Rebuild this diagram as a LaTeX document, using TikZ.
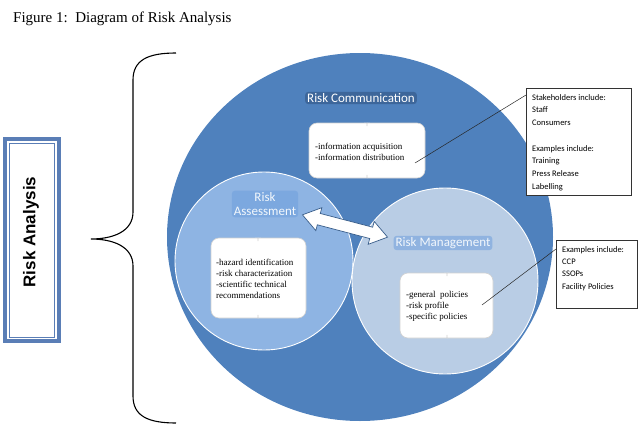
\documentclass[tikz,border=0pt]{standalone}
\usepackage{fontspec}
\setmainfont{Liberation Serif}
\newfontfamily\calfont{Carlito}
\newfontfamily\arialfont{Liberation Sans}
\usetikzlibrary{shapes.geometric,shapes.arrows,calc}
\definecolor{outerblue}{HTML}{4F81BD}
\definecolor{assessblue}{HTML}{8EB4E3}
\definecolor{manageblue}{HTML}{B9CDE5}
\definecolor{frameblue}{HTML}{5A7EB6}
\definecolor{glowdark}{HTML}{243F66}
\definecolor{glowblue}{HTML}{6F9FDC}
\definecolor{paletext}{HTML}{F2F7FC}
\definecolor{arrowline}{HTML}{385D8A}
\newcommand\notchbox[5]{%
  \path[notchboxstyle] (#1,#2) -- (#5-5,#2) .. controls (#5-1.5,#2) and (#5,#2-1.5) .. (#5,#2-5)
    .. controls (#5,#2-1.5) and (#5+1.5,#2) .. (#5+5,#2) -- (#3,#2) -- (#3,#4) -- (#5+5,#4)
    .. controls (#5+1.5,#4) and (#5,#4+1.5) .. (#5,#4+5)
    .. controls (#5,#4+1.5) and (#5-1.5,#4) .. (#5-5,#4) -- (#1,#4) -- cycle;}
\begin{document}
\begin{tikzpicture}[x=1pt,y=-1pt,
  notchboxstyle/.style={fill=white, draw=black!18, line width=0.6pt, rounded corners=8pt},
  lbl/.style={font=\calfont\fontsize{13}{14.5}\selectfont, align=center, inner xsep=2pt, inner ysep=1.5pt, rounded corners=3pt},
  darkglowlbl/.style={lbl, text=white, fill=glowdark, fill opacity=0.4, text opacity=1},
  blueglowlbl/.style={lbl, text=paletext, fill=glowblue, fill opacity=0.55, text opacity=1},
  boxtext/.style={font=\fontsize{9}{11}\selectfont, align=left, anchor=west, inner sep=0pt},
  calltext/.style={font=\calfont\fontsize{8.5}{12.7}\selectfont, align=left, anchor=west, inner sep=0pt},
  callbox/.style={draw=black!80, line width=0.6pt, fill=white, anchor=north west, inner sep=0pt, outer sep=0pt},
  leader/.style={draw=black!85, line width=0.5pt},
  bracestyle/.style={draw=black, line width=1.1pt}]
\useasboundingbox (0,0) rectangle (640,431);

% title
\node[anchor=base west, inner sep=0pt, font=\fontsize{15}{17}\selectfont] (title) at (13,23) {Figure 1:\ \ Diagram of Risk Analysis};

% Risk Analysis frame
\node[draw=frameblue, line width=3.4pt, minimum width=54pt, minimum height=202pt, outer sep=0pt, inner sep=0pt] (ra) at (32,240) {};
\draw[frameblue, line width=0.9pt] ($(ra.north west)+(4.5,4)$) rectangle ($(ra.south east)+(-4.5,-4)$);
\node[rotate=90, font=\arialfont\bfseries\fontsize{17}{20}\selectfont, inner sep=0pt] (ratext) at (31,232) {Risk Analysis};

% brace
\draw[bracestyle] (176,53) .. controls (148,53) and (133,60) .. (133,80) -- (133,212)
  .. controls (133,232) and (112,239) .. (91,239)
  .. controls (112,239) and (133,246) .. (133,266) -- (133,396)
  .. controls (133,416) and (148,423) .. (176,423);

% circles
\node[ellipse, fill=outerblue, minimum width=386pt, minimum height=368pt, inner sep=0pt] (commcirc) at (360,237) {};
\node[circle, fill=assessblue, draw=white, line width=0.9pt, minimum size=178pt, inner sep=0pt] (assesscirc) at (264,261) {};
\node[circle, fill=manageblue, draw=white, line width=0.9pt, minimum size=186pt, inner sep=0pt] (managecirc) at (445,281) {};

% labels
\node[darkglowlbl] (commlbl) at (361,98) {Risk Communication};
\node[blueglowlbl] (assesslbl) at (265,204) {Risk\\Assessment};
\node[blueglowlbl] (managelbl) at (443,243) {Risk Management};

% white boxes
\notchbox{309}{123}{425}{178}{367}
\notchbox{211}{238}{306}{318}{258}
\notchbox{400}{273}{493}{338}{447}
\node[boxtext] (commtext) at (315,151.5) {-information acquisition\\-information distribution};
\node[boxtext] (assesstext) at (216,278.5) {-hazard identification\\-risk characterization\\-scientific technical\\recommendations};
\node[boxtext] (managetext) at (406,306.5) {-general\ \ policies\\-risk profile\\-specific policies};

% double arrow
\node[double arrow, draw=arrowline, line width=0.7pt, fill=white, minimum height=88pt,
  inner xsep=0pt, inner ysep=5.5pt, double arrow head extend=6pt, double arrow tip angle=70,
  rotate=-14.7] (linkarrow) at (345,226) {};

% callouts
\node[callbox, minimum width=105pt, minimum height=107pt] (stakebox) at (526,88) {};
\node[calltext] (staketext) at (532,142.5) {Stakeholders include:\\Staff\\Consumers\\[12.7pt]Examples include:\\Training\\Press Release\\Labelling};
\node[callbox, minimum width=81pt, minimum height=68pt] (exbox) at (556,240) {};
\node[calltext, font=\calfont\fontsize{8.5}{12.3}\selectfont] (extext) at (562,268.5) {Examples include:\\CCP\\SSOPs\\Facility Policies};

\coordinate (stakept) at (526,95);
\coordinate (commpt) at (415,163);
\coordinate (expt) at (556,249);
\coordinate (managept) at (482,305);
\draw[leader] (stakept) -- (commpt);
\draw[leader] (expt) -- (managept);
\end{tikzpicture}
\end{document}
